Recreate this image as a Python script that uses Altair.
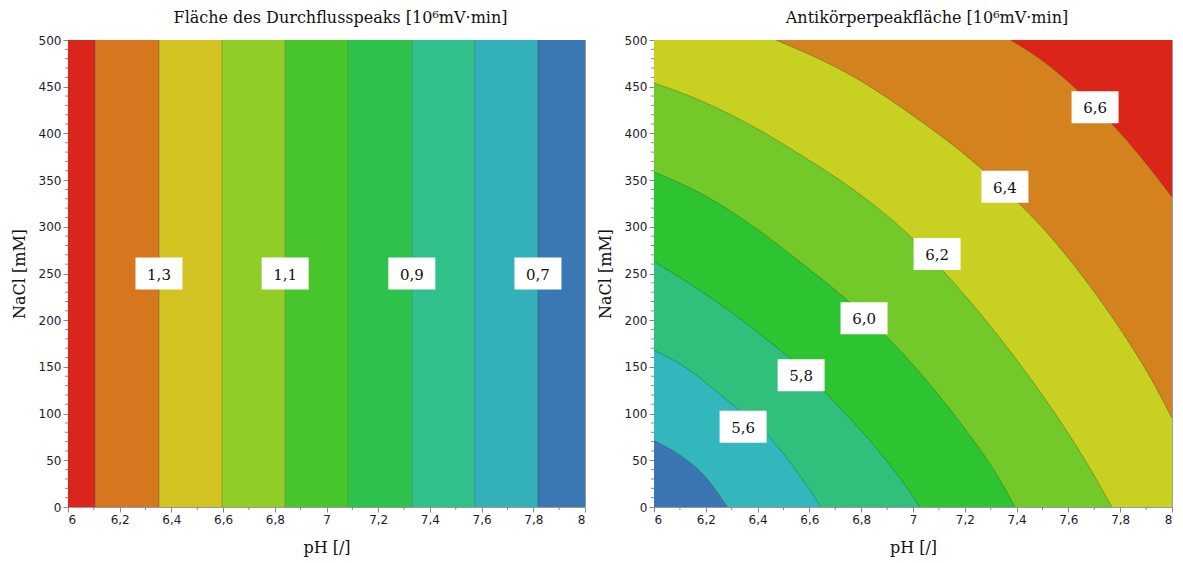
import altair as alt
import pandas as pd

# ---------------- left panel: Fläche des Durchflusspeaks ----------------
ph_edges = [6.0, 6.106, 6.352, 6.596, 6.840, 7.084, 7.330, 7.574, 7.818, 8.0]
left_colors = ["#DA251D", "#D6761E", "#D2C322", "#92CC26", "#48C52B",
               "#2EC24C", "#2FC08C", "#34B0BA", "#3A78B4"]
left_label_ph = [6.352, 6.840, 7.330, 7.818]
left_label_nacl = [250, 250, 250, 250]
left_label_text = ["1,3", "1,1", "0,9", "0,7"]

# ---------------- right panel: Antikörperpeakfläche ----------------
# contour boundaries (pH, NaCl)
c66_x = [7.376, 7.486, 7.583, 7.680, 7.776, 7.873, 7.950, 8.0]
c66_y = [500, 480.7, 459.3, 434.7, 407.9, 376.9, 350.1, 331.9]
c64_x = [6.471, 6.792, 6.996, 7.178, 7.355, 7.525, 7.680, 7.815, 7.911, 8.0]
c64_y = [500, 457.2, 419.7, 382.2, 339.4, 291.2, 237.7, 184.2, 141.3, 95.3]
c62_x = [6.0, 6.193, 6.386, 6.579, 6.772, 7.004, 7.124, 7.317, 7.510, 7.664, 7.768]
c62_y = [454, 433.6, 406.9, 374.7, 339.4, 285.9, 250.5, 187.4, 115.6, 50.3, 0]
c60_x = [6.0, 6.193, 6.386, 6.579, 6.772, 6.907, 7.004, 7.189, 7.317, 7.394]
c60_y = [358.7, 334.0, 299.8, 259.1, 215.2, 179.9, 151.0, 87.8, 37.5, 0]
c58_x = [6.0, 6.066, 6.259, 6.452, 6.568, 6.707, 6.838, 6.996, 7.027]
c58_y = [262.3, 251.6, 216.3, 175.6, 148.8, 109.2, 69.6, 12.8, 0]
c56_x = [6.0, 6.129, 6.258, 6.451, 6.553, 6.644]
c56_y = [167.8, 148.1, 119.6, 73.1, 37.5, 0]
c54_x = [6.0, 6.103, 6.193, 6.283]
c54_y = [71, 55, 34, 0]

right_top_color = "#DB2519"
# colour of the band lying below each contour (outermost first)
curves = [
    (c66_x, c66_y, "#D4821E"),
    (c64_x, c64_y, "#C8D021"),
    (c62_x, c62_y, "#74C92A"),
    (c60_x, c60_y, "#2DC331"),
    (c58_x, c58_y, "#31BF7C"),
    (c56_x, c56_y, "#33B7BC"),
    (c54_x, c54_y, "#3C75B3"),
]
right_label_ph = [7.703, 7.355, 7.093, 6.811, 6.568, 6.344]
right_label_nacl = [428, 343, 271, 202, 141, 86]
right_label_text = ["6,6", "6,4", "6,2", "6,0", "5,8", "5,6"]

x_major = [6.0, 6.2, 6.4, 6.6, 6.8, 7.0, 7.2, 7.4, 7.6, 7.8, 8.0]
x_minor = [6.1, 6.3, 6.5, 6.7, 6.9, 7.1, 7.3, 7.5, 7.7, 7.9]
y_major = [0, 50, 100, 150, 200, 250, 300, 350, 400, 450, 500]
y_minor = [v for v in range(0, 501, 10) if v % 50 != 0]

W, H = 517, 467
SERIF = "DejaVu Serif"
SANS = "DejaVu Sans"

xs = alt.Scale(domain=[6, 8], nice=False, zero=False)
ys = alt.Scale(domain=[0, 500], nice=False, zero=False)
x_axis = alt.Axis(values=x_major, title="pH [/]",
                  labelExpr="replace(format(datum.value, '.1~f'), '.', ',')")
y_axis = alt.Axis(values=y_major, title="NaCl [mM]")


def X(field="x"):
    return alt.X(f"{field}:Q", scale=xs, axis=x_axis)


def Y(field="y"):
    return alt.Y(f"{field}:Q", scale=ys, axis=y_axis)


def minor_ticks():
    dx = pd.DataFrame({"x": x_minor})
    dy = pd.DataFrame({"y": y_minor})
    tx = alt.Chart(dx).mark_rule(color="#888", strokeWidth=1).encode(
        x=X(), y=alt.value(H), y2=alt.value(H + 3))
    ty = alt.Chart(dy).mark_rule(color="#888", strokeWidth=1).encode(
        y=Y(), x=alt.value(-3), x2=alt.value(0))
    return [tx, ty]


def labels(px, py, txt):
    df = pd.DataFrame({"x": px, "y": py, "t": txt})
    box = alt.Chart(df).mark_rect(width=47, height=32, color="white").encode(x=X(), y=Y())
    text = alt.Chart(df).mark_text(font=SERIF, fontSize=15, color="#111",
                                   baseline="middle", align="center", dy=1).encode(
        x=X(), y=Y(), text="t:N")
    return [box, text]


# ---- left panel ----
bands = pd.DataFrame({
    "x": ph_edges[:-1], "x2": ph_edges[1:],
    "y": [0] * 9, "y2": [500] * 9, "c": left_colors,
})
band_chart = alt.Chart(bands).mark_rect().encode(
    x=X(), x2="x2:Q", y=Y(), y2="y2:Q", color=alt.Color("c:N", scale=None))
edge_lines = alt.Chart(pd.DataFrame({"x": ph_edges[1:-1]})).mark_rule(
    color="#1d4d1d", opacity=0.35, strokeWidth=1).encode(x=X())

left = alt.layer(band_chart, edge_lines, *labels(left_label_ph, left_label_nacl, left_label_text),
                 *minor_ticks()).properties(
    width=W, height=H,
    title=alt.TitleParams("Fläche des Durchflusspeaks [10⁶mV·min]", dx=14))

# ---- right panel ----
bg = alt.Chart(pd.DataFrame({"x": [6.0], "x2": [8.0], "y": [0], "y2": [500]})).mark_rect(
    color=right_top_color).encode(x=X(), x2="x2:Q", y=Y(), y2="y2:Q")
layers = [bg]
line_layers = []
for cx, cy, col in curves:
    if cy[0] == 500 and cx[0] > 6:
        # region left of the point where the contour leaves the top edge
        r = pd.DataFrame({"x": [6.0], "x2": [cx[0] + 0.004], "y": [0], "y2": [500]})
        layers.append(alt.Chart(r).mark_rect(color=col).encode(
            x=X(), x2="x2:Q", y=Y(), y2="y2:Q"))
    df = pd.DataFrame({"x": cx, "y": cy, "y0": [0] * len(cx)})
    layers.append(alt.Chart(df).mark_area(color=col, interpolate="monotone", clip=True).encode(
        x=X(), y=Y(), y2="y0:Q"))
    line_layers.append(alt.Chart(df).mark_line(color="#1d4d1d", opacity=0.35, strokeWidth=1,
                                               interpolate="monotone", clip=True).encode(
        x=X(), y=Y()))

right = alt.layer(*layers, *line_layers,
                  *labels(right_label_ph, right_label_nacl, right_label_text),
                  *minor_ticks()).properties(
    width=518, height=H,
    title=alt.TitleParams("Antikörperpeakfläche [10⁶mV·min]", dx=14))

chart = alt.hconcat(left, right, spacing=10).properties(
    padding={"left": 10, "top": 9, "right": 5, "bottom": 5}
).configure_view(stroke="#999", strokeWidth=1).configure_axis(
    grid=False, domain=False, tickSize=5, tickColor="#888",
    labelFont=SANS, labelFontSize=12, labelColor="#1c1c30", labelPadding=2,
    titleFont=SERIF, titleFontSize=16, titleFontWeight="normal", titleColor="#111",
).configure_axisY(titlePadding=11).configure_axisX(titlePadding=14).configure_title(
    font=SERIF, fontSize=16, fontWeight="normal", color="#111", anchor="middle", offset=8
).configure_concat(spacing=10)

chart.save("out.html", embed_options={"renderer": "svg", "actions": False})
